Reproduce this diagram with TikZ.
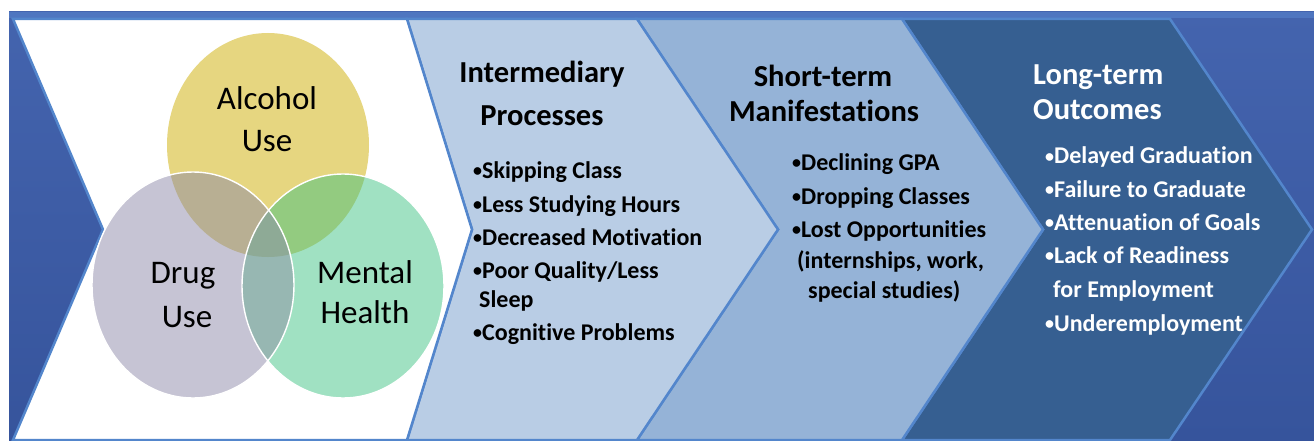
\documentclass[tikz,border=0pt]{standalone}
\usepackage{fontspec}
\usepackage{graphicx}
\setmainfont{Carlito}[Ligatures={NoCommon}]
\definecolor{bgtop}{HTML}{4464AE}
\definecolor{bgbot}{HTML}{36549C}
\definecolor{bgband}{HTML}{4F76C0}
\definecolor{edge}{HTML}{5386CC}
\definecolor{chevA}{HTML}{B9CDE5}
\definecolor{chevB}{HTML}{95B3D7}
\definecolor{chevC}{HTML}{365F91}
\definecolor{alc}{HTML}{E6D680}
\definecolor{drg}{HTML}{C6C4D4}
\definecolor{mnt}{HTML}{A0E1C2}
\definecolor{ad}{HTML}{B8AF93}
\definecolor{am}{HTML}{93CB80}
\definecolor{dm}{HTML}{97B7B2}
\definecolor{adm}{HTML}{8EAA96}
\newcommand\bul{\raisebox{1.2pt}{\fontsize{18}{18}\selectfont •}}
\tikzset{
  chev/.style={draw=edge, line width=2.5pt, line join=miter},
  ttl/.style={anchor=base, inner sep=0pt, font=\bfseries\fontsize{30.5}{30.5}\selectfont},
  ttlw/.style={anchor=base west, inner sep=0pt, font=\bfseries\fontsize{30.5}{30.5}\selectfont, text=white},
  item/.style={anchor=base west, inner sep=0pt, font=\bfseries\fontsize{24}{24}\selectfont},
  itemw/.style={item, text=white},
  venn/.style={anchor=base, inner sep=0pt, font=\fontsize{33}{33}\selectfont},
  ring/.style={draw=white, line width=1.4pt},
}
\begin{document}
\begin{tikzpicture}[x=1pt,y=-1pt]
\useasboundingbox (0,0) rectangle (1314,441);
\fill[white] (0,0) rectangle (1314,441);
% background
\shade[top color=bgtop, bottom color=bgbot] (9,12) rectangle (1314,441);
\fill[bgband] (9,12) rectangle (1314,18);
% chevrons
\path[chev, fill=chevC] (902,19) -- (1170,19) -- (1312,229.5) -- (1170,440) -- (902,440) -- (1043,229.5) -- cycle;
\path[chev, fill=chevB] (637,19) -- (902,19) -- (1043,229.5) -- (902,440) -- (637,440) -- (778,229.5) -- cycle;
\path[chev, fill=chevA] (407,19) -- (637,19) -- (778,229.5) -- (637,440) -- (407,440) -- (472,229.5) -- cycle;
\path[chev, fill=white] (13,19) -- (407,19) -- (472,229.5) -- (407,440) -- (13,440) -- (103,229.5) -- cycle;
% Venn
\def\A{(268,145) ellipse [x radius=101, y radius=112]}
\def\D{(193,285) ellipse [x radius=101, y radius=113]}
\def\M{(343,286) ellipse [x radius=101, y radius=112]}
\fill[alc] \A;
\fill[drg] \D;
\fill[mnt] \M;
\begin{scope}\clip \A; \fill[ad] \D; \fill[am] \M; \end{scope}
\begin{scope}\clip \D; \fill[dm] \M; \end{scope}
\begin{scope}\clip \A; \clip \D; \fill[adm] \M; \end{scope}
\draw[ring] \D;
\draw[ring] \M;
\node[venn] (alc1) at (267,110) {Alcohol};
\node[venn] (alc2) at (267,151) {Use};
\node[venn] (drg1) at (183,283) {Drug};
\node[venn] (drg2) at (187,327) {Use};
\node[venn] (mnt1) at (365,283) {Mental};
\node[venn] (mnt2) at (365,323) {Health};
% Intermediary
\node[ttl] (t1a) at (542,83) {Intermediary};
\node[ttl] (t1b) at (542,125) {Processes};
\node[item] (i1) at (473,178) {\bul Skipping Class};
\node[item] (i2) at (473,212) {\bul Less Studying Hours};
\node[item] (i3) at (473,245) {\bul Decreased Motivation};
\node[item] (i4) at (473,278) {\bul Poor Quality/Less};
\node[item] (i4b) at (479,307) {Sleep};
\node[item] (i5) at (473,340) {\bul Cognitive Problems};
% Short-term
\node[ttl] (t2a) at (823,87) {Short-term};
\node[ttl] (t2b) at (824,122) {Manifestations};
\node[item] (s1) at (792,170) {\bul Declining GPA};
\node[item] (s2) at (792,204) {\bul Dropping Classes};
\node[item] (s3) at (792,237) {\bul Lost Opportunities};
\node[item] (s3b) at (797,268) {(internships, work,};
\node[item] (s3c) at (808,298) {special studies)};
% Long-term
\node[ttlw] (t3a) at (1033,85) {Long-term};
\node[ttlw] (t3b) at (1033,120) {Outcomes};
\node[itemw] (l1) at (1045,164) {\bul Delayed Graduation};
\node[itemw] (l2) at (1045,197) {\bul Failure to Graduate};
\node[itemw] (l3) at (1045,230) {\bul Attenuation of Goals};
\node[itemw] (l4) at (1045,263) {\bul Lack of Readiness};
\node[itemw] (l4b) at (1053,297) {for Employment};
\node[itemw] (l5) at (1045,331) {\bul Underemployment};
\end{tikzpicture}
\end{document}
